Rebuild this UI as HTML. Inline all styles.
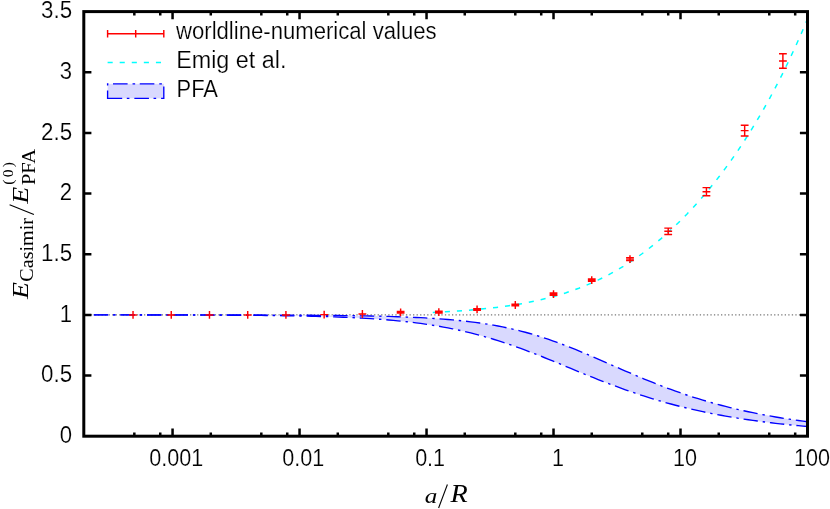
<!DOCTYPE html>
<html><head><meta charset="utf-8"><title>plot</title>
<style>
html,body{margin:0;padding:0;background:#fff;}
svg{display:block;will-change:transform;opacity:0.999;}
text{font-family:"Liberation Sans",sans-serif;font-size:24.8px;fill:#000;}
text{stroke:#fff;stroke-width:0.2px;}
.m,.r{stroke:none;}
.m{font-family:"Liberation Serif",serif;font-style:italic;}
.r{font-family:"Liberation Serif",serif;font-style:normal;}
</style></head><body>
<svg width="830" height="509" viewBox="0 0 830 509">
<rect width="830" height="509" fill="#fff"/>
<!-- y=1 dotted -->
<path d="M83.8,314.89 H807.5" stroke="#787878" stroke-width="1.2" stroke-dasharray="1.3 2.24" fill="none"/>
<!-- PFA band -->
<path d="M83.80,314.89 L88.35,314.89 L92.90,314.89 L97.45,314.89 L102.01,314.89 L106.56,314.89 L111.11,314.90 L115.66,314.90 L120.21,314.90 L124.76,314.90 L129.32,314.90 L133.87,314.90 L138.42,314.90 L142.97,314.90 L147.52,314.90 L152.07,314.91 L156.63,314.91 L161.18,314.91 L165.73,314.91 L170.28,314.91 L174.83,314.92 L179.38,314.92 L183.93,314.92 L188.49,314.93 L193.04,314.93 L197.59,314.93 L202.14,314.94 L206.69,314.94 L211.24,314.95 L215.80,314.95 L220.35,314.96 L224.90,314.96 L229.45,314.97 L234.00,314.98 L238.55,314.99 L243.11,314.99 L247.66,315.00 L252.21,315.01 L256.76,315.03 L261.31,315.04 L265.86,315.05 L270.41,315.07 L274.97,315.08 L279.52,315.10 L284.07,315.12 L288.62,315.14 L293.17,315.16 L297.72,315.18 L302.28,315.21 L306.83,315.23 L311.38,315.26 L315.93,315.30 L320.48,315.33 L325.03,315.37 L329.58,315.41 L334.14,315.46 L338.69,315.51 L343.24,315.56 L347.79,315.62 L352.34,315.68 L356.89,315.75 L361.45,315.83 L366.00,315.91 L370.55,316.00 L375.10,316.10 L379.65,316.20 L384.20,316.32 L388.76,316.44 L393.31,316.58 L397.86,316.73 L402.41,316.89 L406.96,317.06 L411.51,317.25 L416.06,317.46 L420.62,317.68 L425.17,317.92 L429.72,318.19 L434.27,318.47 L438.82,318.78 L443.37,319.12 L447.93,319.49 L452.48,319.88 L457.03,320.31 L461.58,320.77 L466.13,321.27 L470.68,321.81 L475.24,322.40 L479.79,323.02 L484.34,323.70 L488.89,324.42 L493.44,325.20 L497.99,326.03 L502.54,326.91 L507.10,327.86 L511.65,328.86 L516.20,329.93 L520.75,331.06 L525.30,332.26 L529.85,333.52 L534.41,334.84 L538.96,336.23 L543.51,337.68 L548.06,339.20 L552.61,340.77 L557.16,342.40 L561.72,344.09 L566.27,345.83 L570.82,347.61 L575.37,349.44 L579.92,351.31 L584.47,353.21 L589.02,355.14 L593.58,357.10 L598.13,359.07 L602.68,361.06 L607.23,363.06 L611.78,365.06 L616.33,367.05 L620.89,369.05 L625.44,371.03 L629.99,372.99 L634.54,374.94 L639.09,376.86 L643.64,378.76 L648.19,380.63 L652.75,382.47 L657.30,384.27 L661.85,386.04 L666.40,387.77 L670.95,389.46 L675.50,391.11 L680.06,392.71 L684.61,394.28 L689.16,395.80 L693.71,397.28 L698.26,398.71 L702.81,400.10 L707.37,401.45 L711.92,402.76 L716.47,404.02 L721.02,405.25 L725.57,406.43 L730.12,407.57 L734.67,408.67 L739.23,409.74 L743.78,410.77 L748.33,411.76 L752.88,412.71 L757.43,413.63 L761.98,414.52 L766.54,415.37 L771.09,416.19 L775.64,416.98 L780.19,417.74 L784.74,418.47 L789.29,419.18 L793.85,419.85 L798.40,420.50 L802.95,421.13 L807.50,421.73 L807.50,426.53 L802.95,426.12 L798.40,425.70 L793.85,425.26 L789.29,424.80 L784.74,424.33 L780.19,423.83 L775.64,423.32 L771.09,422.78 L766.54,422.23 L761.98,421.65 L757.43,421.04 L752.88,420.42 L748.33,419.77 L743.78,419.09 L739.23,418.38 L734.67,417.65 L730.12,416.89 L725.57,416.10 L721.02,415.28 L716.47,414.43 L711.92,413.55 L707.37,412.63 L702.81,411.68 L698.26,410.70 L693.71,409.68 L689.16,408.62 L684.61,407.53 L680.06,406.40 L675.50,405.23 L670.95,404.02 L666.40,402.78 L661.85,401.49 L657.30,400.17 L652.75,398.80 L648.19,397.40 L643.64,395.95 L639.09,394.47 L634.54,392.95 L629.99,391.39 L625.44,389.79 L620.89,388.16 L616.33,386.49 L611.78,384.79 L607.23,383.06 L602.68,381.30 L598.13,379.52 L593.58,377.71 L589.02,375.88 L584.47,374.04 L579.92,372.18 L575.37,370.31 L570.82,368.43 L566.27,366.55 L561.72,364.67 L557.16,362.80 L552.61,360.94 L548.06,359.08 L543.51,357.25 L538.96,355.44 L534.41,353.65 L529.85,351.89 L525.30,350.17 L520.75,348.48 L516.20,346.83 L511.65,345.22 L507.10,343.65 L502.54,342.14 L497.99,340.67 L493.44,339.25 L488.89,337.88 L484.34,336.56 L479.79,335.29 L475.24,334.08 L470.68,332.92 L466.13,331.81 L461.58,330.76 L457.03,329.76 L452.48,328.80 L447.93,327.90 L443.37,327.05 L438.82,326.24 L434.27,325.48 L429.72,324.76 L425.17,324.08 L420.62,323.44 L416.06,322.85 L411.51,322.29 L406.96,321.76 L402.41,321.27 L397.86,320.81 L393.31,320.38 L388.76,319.98 L384.20,319.61 L379.65,319.26 L375.10,318.94 L370.55,318.64 L366.00,318.36 L361.45,318.10 L356.89,317.86 L352.34,317.63 L347.79,317.42 L343.24,317.23 L338.69,317.05 L334.14,316.89 L329.58,316.73 L325.03,316.59 L320.48,316.46 L315.93,316.34 L311.38,316.23 L306.83,316.12 L302.28,316.03 L297.72,315.94 L293.17,315.86 L288.62,315.78 L284.07,315.71 L279.52,315.65 L274.97,315.59 L270.41,315.53 L265.86,315.48 L261.31,315.44 L256.76,315.39 L252.21,315.35 L247.66,315.32 L243.11,315.28 L238.55,315.25 L234.00,315.22 L229.45,315.20 L224.90,315.17 L220.35,315.15 L215.80,315.13 L211.24,315.11 L206.69,315.09 L202.14,315.08 L197.59,315.06 L193.04,315.05 L188.49,315.03 L183.93,315.02 L179.38,315.01 L174.83,315.00 L170.28,314.99 L165.73,314.98 L161.18,314.98 L156.63,314.97 L152.07,314.96 L147.52,314.96 L142.97,314.95 L138.42,314.95 L133.87,314.94 L129.32,314.94 L124.76,314.93 L120.21,314.93 L115.66,314.93 L111.11,314.92 L106.56,314.92 L102.01,314.92 L97.45,314.91 L92.90,314.91 L88.35,314.91 L83.80,314.91Z" fill="#d9d9fe" stroke="none"/>
<path d="M83.80,314.89 L88.35,314.89 L92.90,314.89 L97.45,314.89 L102.01,314.89 L106.56,314.89 L111.11,314.90 L115.66,314.90 L120.21,314.90 L124.76,314.90 L129.32,314.90 L133.87,314.90 L138.42,314.90 L142.97,314.90 L147.52,314.90 L152.07,314.91 L156.63,314.91 L161.18,314.91 L165.73,314.91 L170.28,314.91 L174.83,314.92 L179.38,314.92 L183.93,314.92 L188.49,314.93 L193.04,314.93 L197.59,314.93 L202.14,314.94 L206.69,314.94 L211.24,314.95 L215.80,314.95 L220.35,314.96 L224.90,314.96 L229.45,314.97 L234.00,314.98 L238.55,314.99 L243.11,314.99 L247.66,315.00 L252.21,315.01 L256.76,315.03 L261.31,315.04 L265.86,315.05 L270.41,315.07 L274.97,315.08 L279.52,315.10 L284.07,315.12 L288.62,315.14 L293.17,315.16 L297.72,315.18 L302.28,315.21 L306.83,315.23 L311.38,315.26 L315.93,315.30 L320.48,315.33 L325.03,315.37 L329.58,315.41 L334.14,315.46 L338.69,315.51 L343.24,315.56 L347.79,315.62 L352.34,315.68 L356.89,315.75 L361.45,315.83 L366.00,315.91 L370.55,316.00 L375.10,316.10 L379.65,316.20 L384.20,316.32 L388.76,316.44 L393.31,316.58 L397.86,316.73 L402.41,316.89 L406.96,317.06 L411.51,317.25 L416.06,317.46 L420.62,317.68 L425.17,317.92 L429.72,318.19 L434.27,318.47 L438.82,318.78 L443.37,319.12 L447.93,319.49 L452.48,319.88 L457.03,320.31 L461.58,320.77 L466.13,321.27 L470.68,321.81 L475.24,322.40 L479.79,323.02 L484.34,323.70 L488.89,324.42 L493.44,325.20 L497.99,326.03 L502.54,326.91 L507.10,327.86 L511.65,328.86 L516.20,329.93 L520.75,331.06 L525.30,332.26 L529.85,333.52 L534.41,334.84 L538.96,336.23 L543.51,337.68 L548.06,339.20 L552.61,340.77 L557.16,342.40 L561.72,344.09 L566.27,345.83 L570.82,347.61 L575.37,349.44 L579.92,351.31 L584.47,353.21 L589.02,355.14 L593.58,357.10 L598.13,359.07 L602.68,361.06 L607.23,363.06 L611.78,365.06 L616.33,367.05 L620.89,369.05 L625.44,371.03 L629.99,372.99 L634.54,374.94 L639.09,376.86 L643.64,378.76 L648.19,380.63 L652.75,382.47 L657.30,384.27 L661.85,386.04 L666.40,387.77 L670.95,389.46 L675.50,391.11 L680.06,392.71 L684.61,394.28 L689.16,395.80 L693.71,397.28 L698.26,398.71 L702.81,400.10 L707.37,401.45 L711.92,402.76 L716.47,404.02 L721.02,405.25 L725.57,406.43 L730.12,407.57 L734.67,408.67 L739.23,409.74 L743.78,410.77 L748.33,411.76 L752.88,412.71 L757.43,413.63 L761.98,414.52 L766.54,415.37 L771.09,416.19 L775.64,416.98 L780.19,417.74 L784.74,418.47 L789.29,419.18 L793.85,419.85 L798.40,420.50 L802.95,421.13 L807.50,421.73" fill="none" stroke="#0000ff" stroke-width="1.35" stroke-dasharray="14.4 4.9 2.4 4.9" stroke-dashoffset="16.6"/>
<path d="M83.80,314.91 L88.35,314.91 L92.90,314.91 L97.45,314.91 L102.01,314.92 L106.56,314.92 L111.11,314.92 L115.66,314.93 L120.21,314.93 L124.76,314.93 L129.32,314.94 L133.87,314.94 L138.42,314.95 L142.97,314.95 L147.52,314.96 L152.07,314.96 L156.63,314.97 L161.18,314.98 L165.73,314.98 L170.28,314.99 L174.83,315.00 L179.38,315.01 L183.93,315.02 L188.49,315.03 L193.04,315.05 L197.59,315.06 L202.14,315.08 L206.69,315.09 L211.24,315.11 L215.80,315.13 L220.35,315.15 L224.90,315.17 L229.45,315.20 L234.00,315.22 L238.55,315.25 L243.11,315.28 L247.66,315.32 L252.21,315.35 L256.76,315.39 L261.31,315.44 L265.86,315.48 L270.41,315.53 L274.97,315.59 L279.52,315.65 L284.07,315.71 L288.62,315.78 L293.17,315.86 L297.72,315.94 L302.28,316.03 L306.83,316.12 L311.38,316.23 L315.93,316.34 L320.48,316.46 L325.03,316.59 L329.58,316.73 L334.14,316.89 L338.69,317.05 L343.24,317.23 L347.79,317.42 L352.34,317.63 L356.89,317.86 L361.45,318.10 L366.00,318.36 L370.55,318.64 L375.10,318.94 L379.65,319.26 L384.20,319.61 L388.76,319.98 L393.31,320.38 L397.86,320.81 L402.41,321.27 L406.96,321.76 L411.51,322.29 L416.06,322.85 L420.62,323.44 L425.17,324.08 L429.72,324.76 L434.27,325.48 L438.82,326.24 L443.37,327.05 L447.93,327.90 L452.48,328.80 L457.03,329.76 L461.58,330.76 L466.13,331.81 L470.68,332.92 L475.24,334.08 L479.79,335.29 L484.34,336.56 L488.89,337.88 L493.44,339.25 L497.99,340.67 L502.54,342.14 L507.10,343.65 L511.65,345.22 L516.20,346.83 L520.75,348.48 L525.30,350.17 L529.85,351.89 L534.41,353.65 L538.96,355.44 L543.51,357.25 L548.06,359.08 L552.61,360.94 L557.16,362.80 L561.72,364.67 L566.27,366.55 L570.82,368.43 L575.37,370.31 L579.92,372.18 L584.47,374.04 L589.02,375.88 L593.58,377.71 L598.13,379.52 L602.68,381.30 L607.23,383.06 L611.78,384.79 L616.33,386.49 L620.89,388.16 L625.44,389.79 L629.99,391.39 L634.54,392.95 L639.09,394.47 L643.64,395.95 L648.19,397.40 L652.75,398.80 L657.30,400.17 L661.85,401.49 L666.40,402.78 L670.95,404.02 L675.50,405.23 L680.06,406.40 L684.61,407.53 L689.16,408.62 L693.71,409.68 L698.26,410.70 L702.81,411.68 L707.37,412.63 L711.92,413.55 L716.47,414.43 L721.02,415.28 L725.57,416.10 L730.12,416.89 L734.67,417.65 L739.23,418.38 L743.78,419.09 L748.33,419.77 L752.88,420.42 L757.43,421.04 L761.98,421.65 L766.54,422.23 L771.09,422.78 L775.64,423.32 L780.19,423.83 L784.74,424.33 L789.29,424.80 L793.85,425.26 L798.40,425.70 L802.95,426.12 L807.50,426.53" fill="none" stroke="#0000ff" stroke-width="1.35" stroke-dasharray="14.4 4.9 2.4 4.9" stroke-dashoffset="16.6"/>
<!-- Emig -->
<path d="M432.79,312.40 L439.14,312.09 L445.49,311.75 L451.84,311.38 L458.19,310.97 L464.54,310.52 L470.89,310.03 L477.24,309.48 L483.60,308.87 L489.95,308.19 L496.30,307.45 L502.65,306.64 L509.00,305.74 L515.35,304.75 L521.70,303.67 L528.05,302.48 L534.40,301.18 L540.75,299.76 L547.11,298.21 L553.46,296.53 L559.81,294.70 L566.16,292.71 L572.51,290.56 L578.86,288.24 L585.21,285.73 L591.56,283.03 L597.91,280.13 L604.27,277.01 L610.62,273.68 L616.97,270.12 L623.32,266.33 L629.67,262.30 L636.02,258.02 L642.37,253.49 L648.72,248.69 L655.07,243.64 L661.43,238.32 L667.78,232.72 L674.13,226.85 L680.48,220.69 L686.83,214.24 L693.18,207.49 L699.53,200.43 L705.88,193.05 L712.23,185.34 L718.58,177.30 L724.94,168.90 L731.29,160.13 L737.64,150.98 L743.99,141.43 L750.34,131.46 L756.69,121.04 L763.04,110.17 L769.39,98.81 L775.74,86.94 L782.10,74.54 L788.45,61.58 L794.80,48.03 L801.15,33.86 L807.50,19.04" fill="none" stroke="#00ffff" stroke-width="1.5" stroke-dasharray="5.1 6.98"/>
<!-- data -->
<path d="M129.13,314.90 h7.80 M133.03,311.00 v7.80 M167.35,314.90 h7.80 M171.25,311.00 v7.80 M205.58,314.90 h7.80 M209.48,311.00 v7.80 M243.81,314.90 h7.80 M247.71,311.00 v7.80 M282.03,314.90 h7.80 M285.93,311.00 v7.80 M320.26,314.60 h7.80 M324.16,310.70 v7.80 M358.49,314.00 h7.80 M362.39,310.10 v7.80 M396.72,312.30 h7.80 M400.62,308.40 v7.80 M400.62,311.50 v1.60 M396.72,311.50 h7.80 M396.72,313.10 h7.80 M434.94,312.10 h7.80 M438.84,308.20 v7.80 M438.84,311.30 v1.60 M434.94,311.30 h7.80 M434.94,312.90 h7.80 M473.17,309.40 h7.80 M477.07,305.50 v7.80 M477.07,308.60 v1.60 M473.17,308.60 h7.80 M473.17,310.20 h7.80 M511.40,305.00 h7.80 M515.30,301.10 v7.80 M515.30,304.20 v1.60 M511.40,304.20 h7.80 M511.40,305.80 h7.80 M549.62,294.10 h7.80 M553.52,290.20 v7.80 M553.52,292.90 v2.40 M549.62,292.90 h7.80 M549.62,295.30 h7.80 M587.85,280.10 h7.80 M591.75,276.20 v7.80 M591.75,278.90 v2.40 M587.85,278.90 h7.80 M587.85,281.30 h7.80 M626.08,259.10 h7.80 M629.98,255.20 v7.80 M629.98,257.60 v3.00 M626.08,257.60 h7.80 M626.08,260.60 h7.80 M664.31,231.30 h7.80 M668.21,227.40 v7.80 M668.21,228.10 v6.40 M664.31,228.10 h7.80 M664.31,234.50 h7.80 M702.53,191.70 h7.80 M706.43,187.80 v7.80 M706.43,187.60 v8.20 M702.53,187.60 h7.80 M702.53,195.80 h7.80 M740.76,130.60 h7.80 M744.66,126.70 v7.80 M744.66,125.30 v10.60 M740.76,125.30 h7.80 M740.76,135.90 h7.80 M778.99,61.00 h7.80 M782.89,57.10 v7.80 M782.89,53.75 v14.50 M778.99,53.75 h7.80 M778.99,68.25 h7.80" fill="none" stroke="#ff0000" stroke-width="1.45"/>
<!-- legend -->
<path d="M107.6,33.7 H163.8 M107.6,29.9 V37.5 M163.8,29.9 V37.5 M135.7,29.9 V37.5" stroke="#ff0000" stroke-width="1.45" fill="none"/>
<path d="M107.6,62.4 H163.8" stroke="#00ffff" stroke-width="1.5" stroke-dasharray="5.1 6.98" fill="none"/>
<rect x="107.6" y="83.8" width="56.2" height="14.6" fill="#d9d9fe"/>
<path d="M107.6,98.4 H163.8 V83.8 H107.6 Z" fill="none" stroke="#0000ff" stroke-width="1.35" stroke-dasharray="14.6 4.6 2.6 4.95"/>
<text x="176.0" y="39.2" style="font-size:23px" textLength="260.6" lengthAdjust="spacingAndGlyphs">worldline-numerical values</text>
<text x="176.2" y="67.7" style="font-size:23px" textLength="110.2" lengthAdjust="spacingAndGlyphs">Emig et al.</text>
<text x="176.5" y="96.8" style="font-size:24.6px" textLength="41.5" lengthAdjust="spacingAndGlyphs">PFA</text>
<!-- frame -->
<rect x="83.8" y="11.6" width="723.70" height="424.60" fill="none" stroke="#000" stroke-width="3"/>
<path d="M83.80,375.54 h7.60 M807.50,375.54 h-7.60 M83.80,314.89 h7.60 M807.50,314.89 h-7.60 M83.80,254.23 h7.60 M807.50,254.23 h-7.60 M83.80,193.57 h7.60 M807.50,193.57 h-7.60 M83.80,132.91 h7.60 M807.50,132.91 h-7.60 M83.80,72.26 h7.60 M807.50,72.26 h-7.60 M134.33,436.20 v-3.80 M134.33,11.60 v3.80 M160.25,436.20 v-3.80 M160.25,11.60 v3.80 M172.56,436.20 v-7.60 M172.56,11.60 v7.60 M210.79,436.20 v-3.80 M210.79,11.60 v3.80 M261.32,436.20 v-3.80 M261.32,11.60 v3.80 M287.24,436.20 v-3.80 M287.24,11.60 v3.80 M299.55,436.20 v-7.60 M299.55,11.60 v7.60 M337.78,436.20 v-3.80 M337.78,11.60 v3.80 M388.31,436.20 v-3.80 M388.31,11.60 v3.80 M414.23,436.20 v-3.80 M414.23,11.60 v3.80 M426.54,436.20 v-7.60 M426.54,11.60 v7.60 M464.76,436.20 v-3.80 M464.76,11.60 v3.80 M515.30,436.20 v-3.80 M515.30,11.60 v3.80 M541.22,436.20 v-3.80 M541.22,11.60 v3.80 M553.52,436.20 v-7.60 M553.52,11.60 v7.60 M591.75,436.20 v-3.80 M591.75,11.60 v3.80 M642.28,436.20 v-3.80 M642.28,11.60 v3.80 M668.21,436.20 v-3.80 M668.21,11.60 v3.80 M680.51,436.20 v-7.60 M680.51,11.60 v7.60 M718.74,436.20 v-3.80 M718.74,11.60 v3.80 M769.27,436.20 v-3.80 M769.27,11.60 v3.80 M795.19,436.20 v-3.80 M795.19,11.60 v3.80" stroke="#000" stroke-width="2.5" fill="none"/>
<text x="59.80" y="442.90" textLength="12.30" lengthAdjust="spacingAndGlyphs">0</text>
<text x="41.10" y="382.24" textLength="31.00" lengthAdjust="spacingAndGlyphs">0.5</text>
<text x="59.80" y="321.59" textLength="12.30" lengthAdjust="spacingAndGlyphs">1</text>
<text x="41.10" y="260.93" textLength="31.00" lengthAdjust="spacingAndGlyphs">1.5</text>
<text x="59.80" y="200.27" textLength="12.30" lengthAdjust="spacingAndGlyphs">2</text>
<text x="41.10" y="139.61" textLength="31.00" lengthAdjust="spacingAndGlyphs">2.5</text>
<text x="59.80" y="78.96" textLength="12.30" lengthAdjust="spacingAndGlyphs">3</text>
<text x="41.10" y="18.30" textLength="31.00" lengthAdjust="spacingAndGlyphs">3.5</text>
<text x="149.16" y="466.2" textLength="54.00" lengthAdjust="spacingAndGlyphs">0.001</text>
<text x="282.15" y="466.2" textLength="42.00" lengthAdjust="spacingAndGlyphs">0.01</text>
<text x="415.14" y="466.2" textLength="30.00" lengthAdjust="spacingAndGlyphs">0.1</text>
<text x="552.12" y="466.2" textLength="12.00" lengthAdjust="spacingAndGlyphs">1</text>
<text x="673.11" y="466.2" textLength="24.00" lengthAdjust="spacingAndGlyphs">10</text>
<text x="794.10" y="466.2" textLength="36.00" lengthAdjust="spacingAndGlyphs">100</text>
<!-- x label -->
<text class="m" x="424.8" y="502.8" style="font-size:21.8px" textLength="12.6" lengthAdjust="spacingAndGlyphs">a</text>
<path d="M438.6,508 L447.4,484.5" stroke="#000" stroke-width="1.1" fill="none"/>
<text class="m" x="450.6" y="502.4" style="font-size:24.4px" textLength="17.2" lengthAdjust="spacingAndGlyphs">R</text>
<!-- y label -->
<g transform="translate(28,299.3) rotate(-90)">
<text class="m" x="0.2" y="0" style="font-size:22.6px" textLength="17" lengthAdjust="spacingAndGlyphs">E</text>
<text class="r" x="17.6" y="4.5" style="font-size:19px" textLength="63.7" lengthAdjust="spacingAndGlyphs">Casimir</text>
<path d="M84.7,5.9 L94.6,-18.4" stroke="#000" stroke-width="1.1" fill="none"/>
<text class="m" x="95.5" y="0" style="font-size:22.6px" textLength="17" lengthAdjust="spacingAndGlyphs">E</text>
<text class="r" x="114.2" y="7" style="font-size:19px" textLength="36.2" lengthAdjust="spacingAndGlyphs">PFA</text>
<text class="r" x="114.5" y="-14.8" style="font-size:15.5px" textLength="22.8" lengthAdjust="spacing">(0)</text>
</g>
</svg>
</body></html>
